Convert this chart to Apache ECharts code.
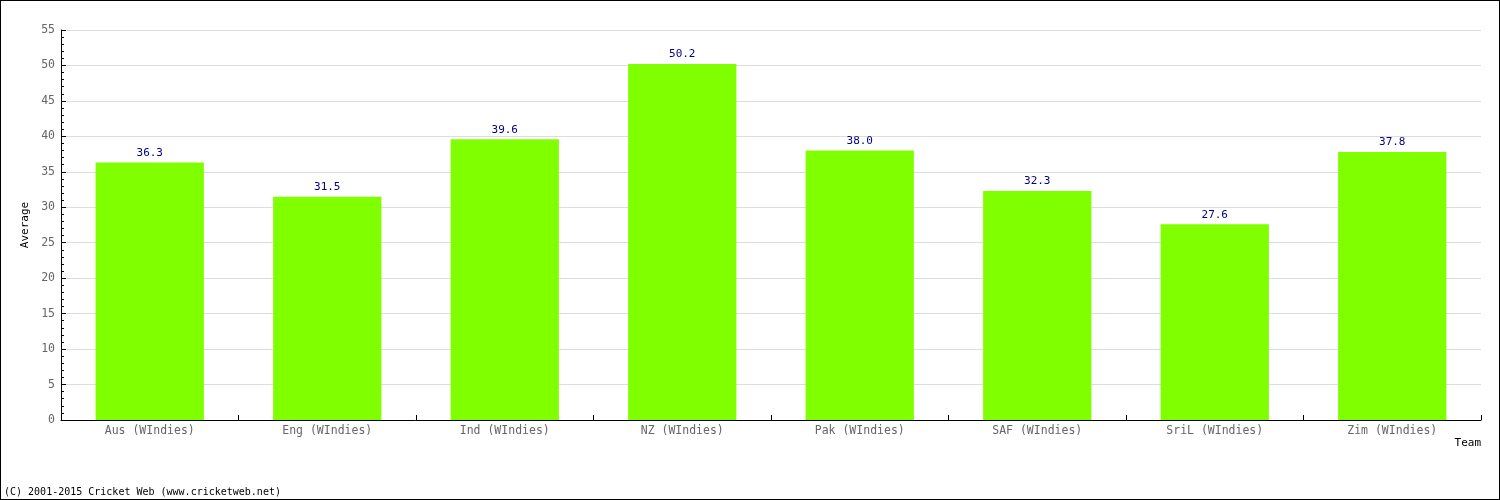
<!DOCTYPE html>
<html><head><meta charset="utf-8">
<script src="https://cdn.jsdelivr.net/npm/echarts@6/dist/echarts.min.js"></script>
<style>html,body{margin:0;padding:0;background:#fff}#c{width:1500px;height:500px;box-sizing:border-box;border:1px solid #000}</style>
</head><body><div id="c"></div>
<script>
const categories = ["Aus (WIndies)","Eng (WIndies)","Ind (WIndies)","NZ (WIndies)","Pak (WIndies)","SAF (WIndies)","SriL (WIndies)","Zim (WIndies)"];
const averages = [36.3, 31.5, 39.6, 50.2, 38.0, 32.3, 27.6, 37.8];
const yTicks = {min: 0, max: 55, interval: 5};
const FONT = "DejaVu Sans Mono";
const chart = echarts.init(document.getElementById('c'), null, {renderer: 'canvas'});
chart.setOption({
  animation: false,
  grid: {left: 60, right: 18, top: 29, bottom: 79, containLabel: false},
  xAxis: {
    type: 'category', data: categories,
    axisLine: {lineStyle: {color: '#000', width: 1}},
    axisTick: {show: true, inside: true, length: 5, alignWithLabel: false, lineStyle: {color: '#000'}},
    axisLabel: {color: '#666', fontFamily: FONT, fontSize: 11.5, margin: 5},
    name: 'Team', nameLocation: 'end', nameGap: 0,
    nameTextStyle: {color: '#000', fontFamily: FONT, fontSize: 11, align: 'right', verticalAlign: 'top', padding: [18, 0, 0, 0]}
  },
  yAxis: {
    type: 'value', min: yTicks.min, max: yTicks.max, interval: yTicks.interval,
    axisLine: {show: true, lineStyle: {color: '#000', width: 1}},
    axisTick: {show: true, inside: true, length: 5, lineStyle: {color: '#000'}},
    minorTick: {show: true, splitNumber: 5, length: 3, lineStyle: {color: '#000'}},
    splitLine: {show: true, lineStyle: {color: '#ddd', width: 1}},
    axisLabel: {color: '#666', fontFamily: FONT, fontSize: 11.5, margin: 6},
    name: 'Average', nameLocation: 'middle', nameGap: 27, nameRotate: 90,
    nameTextStyle: {color: '#000', fontFamily: FONT, fontSize: 11}
  },
  series: [{
    type: 'bar', data: averages, barWidth: '61%',
    itemStyle: {color: '#80ff00'},
    label: {show: true, position: 'top', distance: 4, color: '#000080', fontFamily: FONT, fontSize: 11,
      formatter: p => p.value.toFixed(1)}
  }],
  graphic: [{
    type: 'text', left: 3, top: 486,
    style: {text: '(C) 2001-2015 Cricket Web (www.cricketweb.net)', fill: '#000', font: '10px "DejaVu Sans Mono"'}
  }]
});
</script></body></html>
